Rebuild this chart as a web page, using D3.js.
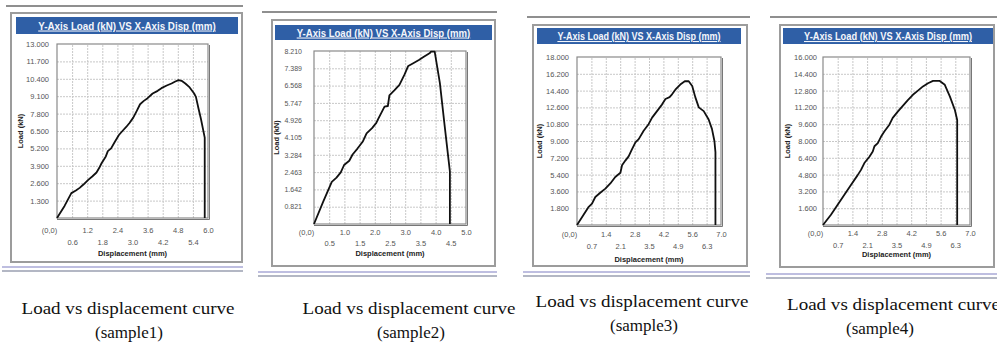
<!DOCTYPE html>
<html>
<head>
<meta charset="utf-8">
<script src="https://cdn.jsdelivr.net/npm/d3@7"></script>
<style>
  body { margin: 0; background: #fff; }
  svg { display: block; }
  .tick text { fill: #555; }
</style>
</head>
<body>
<svg id="chart" width="997" height="349"></svg>
<script>
// ---- data ----
const chartTitle = 'Y-Axis Load (kN) VS X-Axis Disp (mm)'
const xTitle = 'Displacement (mm)'
const yTitle = 'Load (kN)'
const captionLine = 'Load vs displacement curve'
const sampleNames = ['(sample1)', '(sample2)', '(sample3)', '(sample4)']

const disp1 = [0, 0.3, 0.57, 0.75, 0.9, 1.05, 1.24, 1.4, 1.57, 1.68, 1.77, 1.94, 2.02, 2.15, 2.3, 2.46, 2.6, 2.75, 2.88, 3.03, 3.17, 3.3, 3.45, 3.6, 3.8, 4.0, 4.15, 4.36, 4.55, 4.7, 4.83, 4.95, 5.1, 5.25, 5.45, 5.52, 5.62, 5.72, 5.87, 5.87]
const load1 = [0, 0.9, 1.86, 2.05, 2.25, 2.5, 2.85, 3.1, 3.4, 3.75, 4.09, 4.6, 5.0, 5.2, 5.7, 6.2, 6.5, 6.8, 7.1, 7.5, 8.0, 8.5, 8.75, 8.95, 9.3, 9.5, 9.7, 9.9, 10.05, 10.2, 10.3, 10.25, 10.05, 9.8, 9.3, 9.05, 8.2, 7.4, 6.0, 0]

const disp2 = [0, 0.3, 0.585, 0.74, 0.88, 0.99, 1.16, 1.27, 1.43, 1.6, 1.73, 1.91, 2.05, 2.1, 2.21, 2.32, 2.43, 2.48, 2.65, 2.81, 2.98, 3.1, 3.25, 3.45, 3.6, 3.8, 3.85, 3.97, 4.14, 4.3, 4.47, 4.47]
const load2 = [0, 1.05, 2.0, 2.2, 2.45, 2.8, 3.0, 3.3, 3.58, 3.9, 4.3, 4.55, 4.8, 4.95, 5.26, 5.57, 5.6, 6.1, 6.35, 6.6, 7.1, 7.5, 7.62, 7.78, 7.92, 8.1, 8.18, 8.18, 6.7, 4.63, 2.5, 0]

const disp3 = [0, 0.32, 0.57, 0.73, 0.89, 1.13, 1.38, 1.62, 1.86, 2.11, 2.19, 2.35, 2.51, 2.67, 2.84, 3.0, 3.24, 3.48, 3.65, 3.89, 4.13, 4.3, 4.5, 4.62, 4.78, 5.02, 5.24, 5.43, 5.6, 5.75, 5.92, 6.16, 6.4, 6.56, 6.68, 6.73, 6.73]
const load3 = [0, 1.1, 1.95, 2.3, 3.0, 3.45, 3.9, 4.45, 5.15, 5.6, 6.4, 6.9, 7.35, 8.1, 8.85, 9.2, 10.1, 10.8, 11.5, 12.2, 12.9, 13.5, 13.7, 14.0, 14.5, 15.05, 15.4, 15.4, 14.9, 13.7, 12.6, 12.2, 11.3, 10.3, 9.0, 7.8, 0]

const disp4 = [0, 0.37, 0.69, 1.01, 1.33, 1.65, 1.81, 1.97, 2.21, 2.37, 2.45, 2.61, 2.76, 2.92, 3.16, 3.32, 3.56, 3.8, 4.04, 4.28, 4.52, 4.76, 5.0, 5.24, 5.56, 5.8, 6.04, 6.28, 6.39, 6.39]
const load4 = [0, 0.95, 1.9, 2.85, 3.8, 4.75, 5.25, 5.9, 6.5, 7.0, 7.5, 7.8, 8.4, 8.9, 9.55, 10.2, 10.8, 11.35, 11.9, 12.4, 12.8, 13.2, 13.5, 13.72, 13.72, 13.35, 12.25, 10.95, 10.0, 0]

const xTicks1 = [0, 0.6, 1.2, 1.8, 2.4, 3.0, 3.6, 4.2, 4.8, 5.4, 6.0]
const xTickLabels1 = ['(0,0)', '0.6', '1.2', '1.8', '2.4', '3.0', '3.6', '4.2', '4.8', '5.4', '6.0']
const yTicks1 = [1.3, 2.6, 3.9, 5.2, 6.5, 7.8, 9.1, 10.4, 11.7, 13.0]
const yTickLabels1 = ['1.300', '2.600', '3.900', '5.200', '6.500', '7.800', '9.100', '10.400', '11.700', '13.000']

const xTicks2 = [0, 0.5, 1.0, 1.5, 2.0, 2.5, 3.0, 3.5, 4.0, 4.5, 5.0]
const xTickLabels2 = ['(0,0)', '0.5', '1.0', '1.5', '2.0', '2.5', '3.0', '3.5', '4.0', '4.5', '5.0']
const yTicks2 = [0.821, 1.642, 2.463, 3.284, 4.105, 4.926, 5.747, 6.568, 7.389, 8.21]
const yTickLabels2 = ['0.821', '1.642', '2.463', '3.284', '4.105', '4.926', '5.747', '6.568', '7.389', '8.210']

const xTicks34 = [0, 0.7, 1.4, 2.1, 2.8, 3.5, 4.2, 4.9, 5.6, 6.3, 7.0]
const xTickLabels34 = ['(0,0)', '0.7', '1.4', '2.1', '2.8', '3.5', '4.2', '4.9', '5.6', '6.3', '7.0']
const yTicks3 = [1.8, 3.6, 5.4, 7.2, 9.0, 10.8, 12.6, 14.4, 16.2, 18.0]
const yTickLabels3 = ['1.800', '3.600', '5.400', '7.200', '9.000', '10.800', '12.600', '14.400', '16.200', '18.000']
const yTicks4 = [1.6, 3.2, 4.8, 6.4, 8.0, 9.6, 11.2, 12.8, 14.4, 16.0]
const yTickLabels4 = ['1.600', '3.200', '4.800', '6.400', '8.000', '9.600', '11.200', '12.800', '14.400', '16.000']

// ---- per panel wiring + geometry ----
const samples = [
  { disp: disp1, load: load1, xt: xTicks1, xl: xTickLabels1, yt: yTicks1, yl: yTickLabels1 },
  { disp: disp2, load: load2, xt: xTicks2, xl: xTickLabels2, yt: yTicks2, yl: yTickLabels2 },
  { disp: disp3, load: load3, xt: xTicks34, xl: xTickLabels34, yt: yTicks3, yl: yTickLabels3 },
  { disp: disp4, load: load4, xt: xTicks34, xl: xTickLabels34, yt: yTicks4, yl: yTickLabels4 },
]

const layout = [
  { rule: { x1: 6, x2: 243, y: 6 }, box: { x: 11, y: 13, w: 231, h: 249 }, bar: { x: 16, y: 17, w: 222, h: 17 },
    plot: { x: 57, y: 44, w: 151, h: 174 }, ygap: 8, yfont: 7.5, row: [12, 24], xlab: 35, ylabX: 20,
    under: [267, 271], cap: { x: 128, y: 314, anchor: 'middle' }, sub: 129 },
  { rule: { x1: 262, x2: 497, y: 12 }, box: { x: 272, y: 20, w: 223, h: 246 }, bar: { x: 275, y: 25, w: 217, h: 15 },
    plot: { x: 314, y: 51, w: 152, h: 173 }, ygap: 12, yfont: 7, row: [8, 19], xlab: 29, ylabX: 276,
    under: [272, 276], cap: { x: 409, y: 314, anchor: 'middle' }, sub: 411 },
  { rule: { x1: 527, x2: 750, y: 17 }, box: { x: 533, y: 25, w: 214, h: 241 }, bar: { x: 537, y: 28, w: 204, h: 16 },
    plot: { x: 577, y: 57, w: 144, h: 168 }, ygap: 8, yfont: 7.5, row: [9, 21], xlab: 34, ylabX: 539,
    under: [272, 276], cap: { x: 642, y: 307, anchor: 'middle' }, sub: 644 },
  { rule: { x1: 770, x2: 997, y: 17 }, box: { x: 780, y: 25, w: 214, h: 242 }, bar: { x: 783, y: 28, w: 210, h: 16 },
    plot: { x: 823, y: 57, w: 147, h: 168 }, ygap: 6, yfont: 7.5, row: [8, 20], xlab: 29, ylabX: 787,
    under: [274, 278], cap: { x: 787, y: 310, anchor: 'start' }, sub: 880 },
]

const svg = d3.select('#chart')
const sans = 'Liberation Sans, Arial, sans-serif'

samples.forEach((s, i) => {
  const L = layout[i]
  const p = L.plot
  const g = svg.append('g')

  // frame rules above / below
  g.append('line')
    .attr('x1', L.rule.x1).attr('x2', L.rule.x2).attr('y1', L.rule.y).attr('y2', L.rule.y)
    .attr('stroke', '#6a6a6a').attr('stroke-width', 1.6)
  g.append('line')
    .attr('x1', L.rule.x1 - 4).attr('x2', L.rule.x2).attr('y1', L.under[0]).attr('y2', L.under[0])
    .attr('stroke', '#a9a9d6').attr('stroke-width', 1.5)
  g.append('line')
    .attr('x1', L.rule.x1 - 4).attr('x2', L.rule.x2).attr('y1', L.under[1]).attr('y2', L.under[1])
    .attr('stroke', '#9a9fb0').attr('stroke-width', 1.5)

  g.append('rect')
    .attr('x', L.box.x).attr('y', L.box.y).attr('width', L.box.w).attr('height', L.box.h)
    .attr('fill', '#fff').attr('stroke', '#9c9c9c').attr('stroke-width', 2)

  // title bar
  g.append('rect')
    .attr('x', L.bar.x).attr('y', L.bar.y).attr('width', L.bar.w).attr('height', L.bar.h)
    .attr('fill', '#2f5fa6')
  g.append('text')
    .attr('x', L.bar.x + L.bar.w / 2).attr('y', L.bar.y + L.bar.h / 2 + 4)
    .attr('text-anchor', 'middle')
    .attr('textLength', L.bar.w * 0.8).attr('lengthAdjust', 'spacingAndGlyphs')
    .style('font', 'bold 10.5px ' + sans).style('text-decoration', 'underline')
    .attr('fill', '#f4f6fb')
    .text(chartTitle)

  // scales
  const x = d3.scaleLinear().domain([0, d3.max(s.xt)]).range([p.x, p.x + p.w])
  const y = d3.scaleLinear().domain([0, d3.max(s.yt)]).range([p.y + p.h, p.y])

  // grid
  g.append('g')
    .attr('transform', 'translate(0,' + (p.y + p.h) + ')')
    .call(d3.axisBottom(x).tickValues(s.xt.slice(1, -1)).tickSize(-p.h).tickFormat(''))
    .call(a => a.select('.domain').remove())
    .call(a => a.selectAll('.tick line').attr('stroke', '#c8c8c8').attr('stroke-dasharray', '2,1'))
  g.append('g')
    .attr('transform', 'translate(' + p.x + ',0)')
    .call(d3.axisLeft(y).tickValues(s.yt.slice(0, -1)).tickSize(-p.w).tickFormat(''))
    .call(a => a.select('.domain').remove())
    .call(a => a.selectAll('.tick line').attr('stroke', '#c8c8c8').attr('stroke-dasharray', '2,1'))

  g.append('rect')
    .attr('x', p.x).attr('y', p.y).attr('width', p.w).attr('height', p.h)
    .attr('fill', 'none').attr('stroke', '#8a8a8a').attr('stroke-width', 1.2)
  g.append('path')
    .attr('d', 'M' + (p.x + p.w + 1.5) + ',' + (p.y + 1) + 'V' + (p.y + p.h + 1.5) + 'H' + p.x)
    .attr('fill', 'none').attr('stroke', '#777').attr('stroke-width', 1)

  // y tick labels
  g.append('g')
    .attr('transform', 'translate(' + (p.x - L.ygap + 3) + ',0)')
    .call(d3.axisLeft(y).tickValues(s.yt).tickSize(0).tickPadding(3)
      .tickFormat((d, k) => s.yl[k]))
    .call(a => a.select('.domain').remove())
    .call(a => a.selectAll('text').style('font', L.yfont + 'px ' + sans))

  // x tick labels, staggered on two rows
  g.append('g')
    .attr('transform', 'translate(0,' + (p.y + p.h) + ')')
    .call(d3.axisBottom(x).tickValues(s.xt).tickSize(0).tickPadding(0)
      .tickFormat((d, k) => s.xl[k]))
    .call(a => a.select('.domain').remove())
    .call(a => a.selectAll('text')
      .style('font', '7.5px ' + sans)
      .attr('dy', null)
      .attr('y', (d, k) => L.row[k % 2] + 2.5)
      .attr('dx', (d, k) => k === 0 ? -8 : 0))

  g.append('text')
    .attr('x', p.x + p.w / 2).attr('y', p.y + p.h + L.xlab + 3)
    .attr('text-anchor', 'middle')
    .style('font', 'bold 7.5px ' + sans).attr('fill', '#222')
    .text(xTitle)
  g.append('text')
    .attr('transform', 'translate(' + (L.ylabX + 3) + ',' + (p.y + p.h / 2) + ') rotate(-90)')
    .attr('text-anchor', 'middle')
    .style('font', 'bold 7.5px ' + sans).attr('fill', '#222')
    .text(yTitle)

  // curve
  const pts = d3.zip(s.disp, s.load)
  g.append('path')
    .datum(pts)
    .attr('fill', 'none').attr('stroke', '#111').attr('stroke-width', 1.8)
    .attr('stroke-linejoin', 'round')
    .attr('d', d3.line().x(d => x(d[0])).y(d => y(d[1])))

  // caption below
  const serif = 'Liberation Serif, Times New Roman, serif'
  svg.append('text')
    .attr('x', L.cap.x).attr('y', L.cap.y)
    .attr('text-anchor', L.cap.anchor)
    .attr('textLength', 213).attr('lengthAdjust', 'spacingAndGlyphs')
    .style('font', '17px ' + serif).attr('fill', '#111')
    .text(captionLine)
  svg.append('text')
    .attr('x', L.sub).attr('y', L.cap.y + 24)
    .attr('text-anchor', 'middle')
    .style('font', '17px ' + serif).attr('fill', '#111')
    .text(sampleNames[i])
})
</script>
</body>
</html>
